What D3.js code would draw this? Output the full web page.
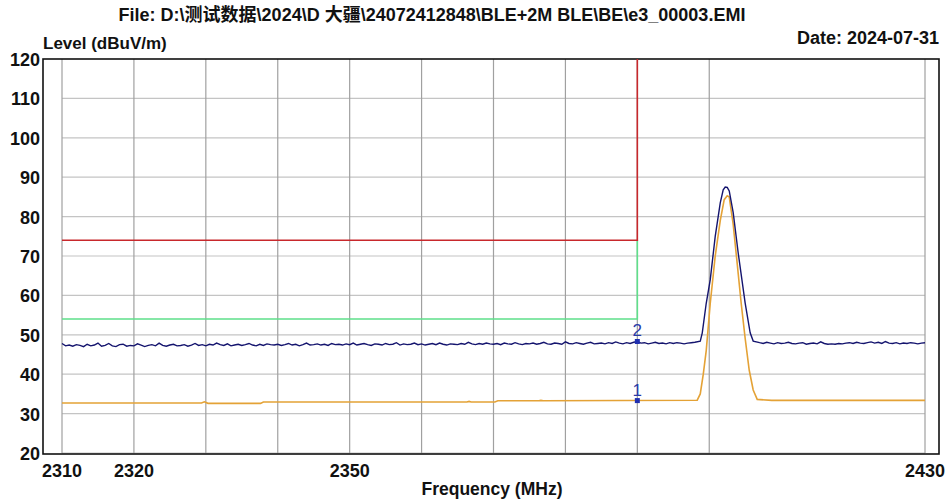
<!DOCTYPE html>
<html><head><meta charset="utf-8">
<script src="https://cdn.jsdelivr.net/npm/d3@7"></script>
<style>
body{margin:0;background:#fff}
svg{display:block}
text{font-family:"Liberation Sans",Arial,"Noto Sans CJK SC",sans-serif;font-weight:bold;fill:#111}
</style>
</head><body><svg id="c" width="947" height="504"></svg>
<script>
// ---- text ----
const titleText = "File: D:\\测试数据\\2024\\D 大疆\\24072412848\\BLE+2M BLE\\BE\\e3_00003.EMI";
const dateText = "Date: 2024-07-31";
const yAxisTitle = "Level (dBuV/m)";
const xAxisTitle = "Frequency (MHz)";

// ---- axes ----
const xTickValues = [2310, 2320, 2350, 2430];
const xGridValues = [2310, 2320, 2330, 2340, 2350, 2360, 2370, 2380, 2390, 2400, 2430];
const yTickValues = [20, 30, 40, 50, 60, 70, 80, 90, 100, 110, 120];

// ---- peak trace (blue), noise floor sampled every 0.5 MHz ----
const peakLeftStart = 2310, peakStep = 0.5;
const peakLeftLevels = [
 47.8,47.2,47.4,47.1,47.5,47.3,47.0,47.6,47.2,47.4,
 47.9,47.1,47.3,47.8,47.2,47.0,47.5,47.6,47.1,47.3,
 47.2,47.7,47.4,47.0,47.3,47.5,47.2,47.9,47.3,47.1,
 47.4,47.6,47.2,47.3,47.5,47.1,47.4,47.8,47.3,47.5,
 47.2,47.6,47.4,47.9,47.5,47.3,47.7,47.2,47.4,47.6,
 47.3,47.5,47.8,47.4,47.2,47.6,47.3,47.7,47.5,47.4,
 47.6,47.3,47.5,47.8,47.4,47.6,47.2,47.5,47.9,47.4,
 47.5,47.7,47.4,47.6,47.3,47.8,47.5,47.6,47.4,47.7,
 47.5,47.9,47.4,47.6,47.8,47.5,47.3,47.7,47.6,47.4,
 47.8,47.5,47.6,48.0,47.4,47.7,47.5,47.6,47.9,47.5,
 47.7,47.4,47.6,47.8,47.5,47.9,47.6,47.4,47.7,47.6,
 47.5,47.8,47.6,48.1,47.7,47.5,47.8,47.6,47.9,47.7,
 47.6,47.8,47.5,47.9,47.7,47.6,48.0,47.7,47.5,47.8,
 47.7,47.9,47.6,47.8,48.1,47.7,47.6,47.9,47.8,47.6,
 48.2,47.8,47.7,48.0,47.8,47.6,47.9,48.1,47.7,47.8,
 47.9,47.7,48.0,47.8,48.2,47.9,47.7,48.0,47.8,48.1,
 48.3,47.9,48.0,47.7,47.9,48.1,47.8,47.9,47.7,48.0,
 47.8,48.0,47.9,47.7,47.9,48.0,48.1
];
const peakBumpFreq  = [2398.75,2399.03,2399.58,2400.14,2400.83,2401.53,2401.94,2402.22,2402.5,2402.78,2403.33,2404.03,2405.0,2405.69,2406.11];
const peakBumpLevel = [48.4,   50.5,   58.0,   64.0,   75.0,   83.5,   86.8,   87.5,   87.4,  86.5,   81.0,   70.7,   58.0,  50.5,   48.4];
const peakRightStart = 2407;
const peakRightLevels = [
 48.0,47.8,48.1,47.9,47.7,48.0,47.8,47.9,48.1,
 47.8,47.7,47.9,48.0,47.6,47.8,47.9,47.7,48.2,47.8,
 47.6,47.7,47.6,47.8,47.7,47.9,48.0,47.8,48.1,47.9,
 47.8,48.0,48.2,47.9,48.1,47.8,48.3,47.9,47.8,48.0,
 47.7,47.9,47.8,48.0,47.9,47.7,47.9,48.0
];

// ---- average trace (orange) ----
const avgFreq  = [2310,2329.4,2329.8,2330.3,2337.6,2338.0,2366.3,2366.6,2366.9,2370.2,2370.6,2376.3,2376.6,2376.9,2398.33,
                  2398.75,2399.17,2399.58,2400.14,2400.83,2401.53,2402.08,2402.5,2402.78,2403.33,2403.89,2404.44,2405.0,2405.56,2406.11,2406.67,2408.7,2430];
const avgLevel = [32.7,32.7,33.0,32.6,32.6,32.95,32.95,33.1,32.95,32.95,33.25,33.25,33.35,33.25,33.4,
                  35.0,40.0,46.0,58.0,70.0,79.0,84.3,85.3,85.0,78.0,68.0,58.0,49.0,41.0,36.0,33.6,33.35,33.35];

// ---- limit lines ----
const limitFreq = [2310, 2390, 2390];
const limitPeakLevel = [74, 74, 120];
const limitAvgLevel = [54, 54, 74];

// ---- markers ----
const markerFreq = [2390, 2390];
const markerLevel = [33.3, 48.3];
const markerLabel = ["1", "2"];

// ================= drawing =================
const svg = d3.select("#c");
const x = d3.scaleLinear().domain([2310, 2430]).range([62, 925]);
const y = d3.scaleLinear().domain([20, 120]).range([453, 59]);
const frame = {l: 43, r: 939, t: 59, b: 454};

svg.append("rect").attr("width", 947).attr("height", 504).attr("fill", "#fff");

// grid
svg.append("g").selectAll("line").data(yTickValues.slice(0, -1)).join("line")
  .attr("x1", x(2310)).attr("x2", x(2430))
  .attr("y1", d => y(d)).attr("y2", d => y(d))
  .attr("stroke", "#c4c4c4").attr("stroke-width", 1.2);
svg.append("g").selectAll("line").data(xGridValues).join("line")
  .attr("x1", d => x(d)).attr("x2", d => x(d))
  .attr("y1", frame.t).attr("y2", y(20))
  .attr("stroke", "#a0a0a0").attr("stroke-width", 1.2);

// frame
svg.append("rect").attr("x", frame.l).attr("y", frame.t)
  .attr("width", frame.r - frame.l).attr("height", frame.b - frame.t)
  .attr("fill", "none").attr("stroke", "#111").attr("stroke-width", 1.6);

// limits
const lineGen = d3.line().x(d => x(d[0])).y(d => y(d[1]));
svg.append("path").datum(limitFreq.map((f, i) => [f, limitAvgLevel[i]]))
  .attr("d", lineGen).attr("fill", "none").attr("stroke", "#5fe08a").attr("stroke-width", 1.6);
svg.append("path").datum(limitFreq.map((f, i) => [f, limitPeakLevel[i]]))
  .attr("d", lineGen).attr("fill", "none").attr("stroke", "#c8282c").attr("stroke-width", 1.6);

// traces
const peakData = []
  .concat(peakLeftLevels.map((v, i) => [peakLeftStart + i * peakStep, v]))
  .concat(peakBumpFreq.map((f, i) => [f, peakBumpLevel[i]]))
  .concat(peakRightLevels.map((v, i) => [peakRightStart + i * peakStep, v]));
const avgData = avgFreq.map((f, i) => [f, avgLevel[i]]);

svg.append("path").datum(avgData).attr("d", lineGen)
  .attr("fill", "none").attr("stroke", "#e4a236").attr("stroke-width", 1.6);
svg.append("path").datum(peakData).attr("d", lineGen)
  .attr("fill", "none").attr("stroke", "#14146e").attr("stroke-width", 1.4);

// markers
const mk = svg.append("g").selectAll("g").data(markerFreq.map((f, i) => ({f, v: markerLevel[i], t: markerLabel[i]}))).join("g");
mk.append("rect").attr("x", d => x(d.f) - 2.5).attr("y", d => y(d.v) - 2.5)
  .attr("width", 5).attr("height", 5).attr("fill", "#1f2fb0");
mk.append("text").attr("x", d => x(d.f)).attr("y", d => y(d.v) - 5)
  .attr("text-anchor", "middle").style("font-size", "17px").style("font-weight", "normal")
  .style("fill", "#2a3aa8").text(d => d.t);

// y tick labels
svg.append("g").selectAll("text").data(yTickValues).join("text")
  .attr("x", 40).attr("y", d => y(d) + 7)
  .attr("text-anchor", "end").style("font-size", "18px").text(d => d);

// x tick labels
svg.append("g").selectAll("text").data(xTickValues).join("text")
  .attr("x", d => x(d)).attr("y", 477)
  .attr("text-anchor", "middle").style("font-size", "18px").text(d => d);

// titles
svg.append("text").attr("x", 432).attr("y", 21).attr("text-anchor", "middle")
  .style("font-size", "18px").text(titleText);
svg.append("text").attr("x", 43).attr("y", 49).style("font-size", "17px").text(yAxisTitle);
svg.append("text").attr("x", 939).attr("y", 44).attr("text-anchor", "end")
  .style("font-size", "18px").text(dateText);
svg.append("text").attr("x", 492).attr("y", 495).attr("text-anchor", "middle")
  .style("font-size", "17.5px").text(xAxisTitle);
</script>
</body></html>
